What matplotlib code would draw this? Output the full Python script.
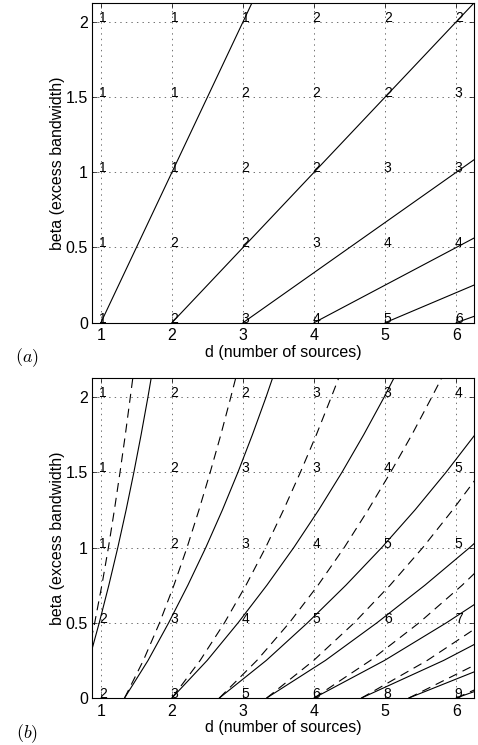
"""Two panels: number of sensors needed vs. sources d and excess bandwidth beta."""

import matplotlib
matplotlib.use('Agg')
import matplotlib.pyplot as plt

plt.rcParams['font.family'] = ['Liberation Sans', 'DejaVu Sans']
plt.rcParams['mathtext.fontset'] = 'cm'
plt.rcParams['lines.scale_dashes'] = False

# grid of labelled points, rows go from beta=0 upward
d_ticks = [1, 2, 3, 4, 5, 6]
beta_rows = [0, 0.5, 1, 1.5, 2]
y_ticks = [0, 0.5, 1, 1.5, 2]
y_ticklabels = ['0', '0.5', '1', '1.5', '2']

counts_a = [
    [1, 2, 3, 4, 5, 6],
    [1, 2, 2, 3, 4, 4],
    [1, 1, 2, 2, 3, 3],
    [1, 1, 2, 2, 2, 3],
    [1, 1, 1, 2, 2, 2],
]
counts_b = [
    [2, 3, 5, 6, 8, 9],
    [2, 3, 4, 5, 6, 7],
    [1, 2, 3, 4, 5, 5],
    [1, 2, 3, 3, 4, 5],
    [1, 2, 2, 3, 3, 4],
]

# panel (a): straight boundaries, end points (d, beta)
lines_a_d = [[1, 3.13], [2, 6.25], [3, 6.25], [4, 6.25], [5, 6.25], [6, 6.25]]
lines_a_beta = [[0, 2.13], [0, 2.125], [0, 1.083], [0, 0.5625], [0, 0.25], [0, 0.042]]

# panel (b): d at these beta levels
beta_b = [0, 0.25, 0.5, 0.75, 1, 1.25, 1.5, 1.75, 2, 2.13]
solid_b = [
    [0.667, 0.832, 0.977, 1.112, 1.238, 1.355, 1.464, 1.566, 1.662, 1.709],
    [1.333, 1.664, 1.954, 2.224, 2.476, 2.71, 2.928, 3.132, 3.324, 3.418],
    [2.0, 2.496, 2.931, 3.336, 3.714, 4.065, 4.392, 4.698, 4.986, 5.127],
    [2.667, 3.328, 3.908, 4.448, 4.952, 5.42, 5.856, 6.264],
    [3.333, 4.16, 4.885, 5.56, 6.19, 6.775],
    [4.0, 4.992, 5.862, 6.672],
    [4.667, 5.824, 6.839],
    [5.333, 6.656],
    [6.0, 7.488],
]
dashed_b = [
    [0.667, 0.799, 0.913, 1.014, 1.106, 1.19, 1.269, 1.344, 1.414, 1.45],
    [1.333, 1.598, 1.826, 2.028, 2.212, 2.38, 2.538, 2.688, 2.828, 2.899],
    [2.0, 2.397, 2.739, 3.042, 3.318, 3.57, 3.807, 4.032, 4.242, 4.349],
    [2.667, 3.196, 3.652, 4.056, 4.424, 4.76, 5.076, 5.376, 5.656, 5.798],
    [3.333, 3.995, 4.565, 5.07, 5.53, 5.95, 6.345],
    [4.0, 4.794, 5.478, 6.084, 6.636],
    [4.667, 5.593, 6.391],
    [5.333, 6.392],
    [6.0, 7.191],
]

W, H = 478, 745
fig = plt.figure(figsize=(W / 100, H / 100), dpi=100)


def setup_axes(ax, counts):
    ax.set_xlim(0.875, 6.25)
    ax.set_ylim(0, 2.125)
    ax.set_xticks(d_ticks)
    ax.set_yticks(y_ticks)
    ax.set_yticklabels(y_ticklabels)
    ax.tick_params(direction='in', length=3.5, width=0.5, labelsize=11.5,
                   top=True, right=True)
    ax.tick_params(axis='x', pad=4)
    ax.tick_params(axis='y', pad=3)
    for sp in ax.spines.values():
        sp.set_linewidth(0.8)
    ax.grid(True, ls=(0, (1, 3)), lw=0.6, color='0.35')
    ax.set_xlabel('d (number of sources)', fontsize=11.5, labelpad=1)
    ax.set_ylabel('beta (excess bandwidth)', fontsize=11.5, labelpad=0.5)
    for row, b in zip(counts, beta_rows):
        for n, d in zip(row, d_ticks):
            ax.annotate(str(n), (d, b), xytext=(-1, 0), textcoords='offset points',
                        fontsize=10, ha='left', va='baseline')


ax_a = fig.add_axes([92 / W, 1 - 322.7 / H, 382 / W, 319.7 / H])
setup_axes(ax_a, counts_a)
for xs, ys in zip(lines_a_d, lines_a_beta):
    ax_a.plot(xs, ys, color='black', lw=0.8)

ax_b = fig.add_axes([92 / W, 1 - 698 / H, 382 / W, 319.7 / H])
setup_axes(ax_b, counts_b)
for ds in solid_b:
    ax_b.plot(ds, beta_b[:len(ds)], color='black', lw=0.8)
for ds in dashed_b:
    ax_b.plot(ds, beta_b[:len(ds)], color='black', lw=0.8, dashes=(6.5, 4.3))

fig.text(27 / W, 1 - 358 / H, '$(a)$', fontsize=13, ha='center', va='center')
fig.text(27 / W, 1 - 734 / H, '$(b)$', fontsize=13, ha='center', va='center')

fig.savefig('out.png', dpi=100)
